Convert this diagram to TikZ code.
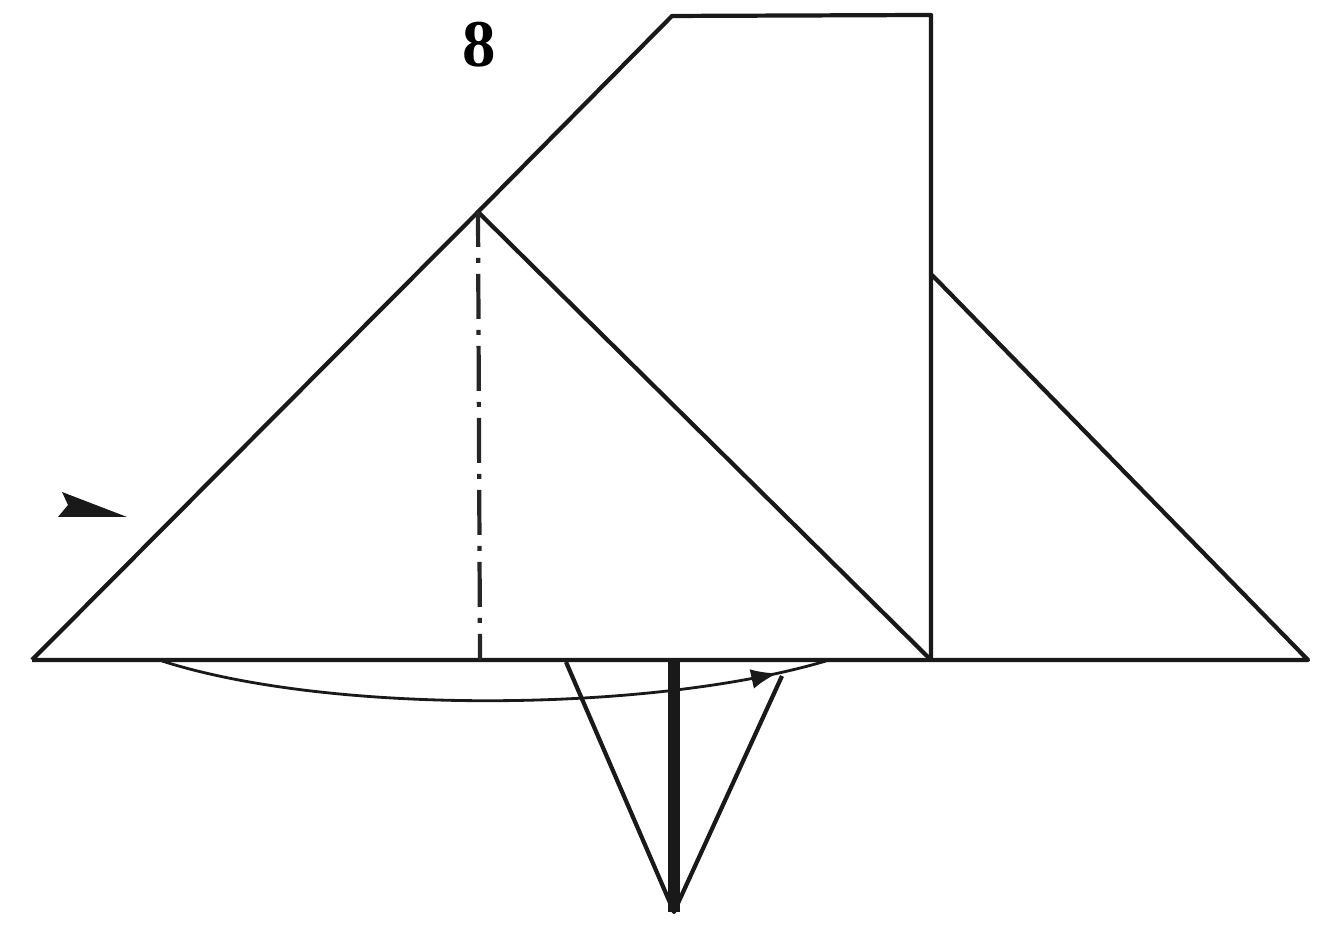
\documentclass[tikz,border=0pt]{standalone}
\usepackage{fontspec}
\setmainfont{Liberation Serif}
\usetikzlibrary{arrows.meta,decorations.markings}
\tikzset{
  edge/.style={
    line width=1.2pt,
    line join=round,
    draw=black!90
  },
  crease/.style={
    line width=1.2pt,
    draw=black!85,
    dash pattern=on .45cm off .11cm on .05cm off .11cm,
    dash phase=.10cm
  },
  spine/.style={
    line width=3.3pt,
    draw=black!90
  },
  turn/.style={
    line width=.8pt,
    draw=black!90,
    decoration={markings,mark=at position .925 with {\arrow{Latex[length=.26cm,width=.2cm]}}},
    postaction={decorate}
  },
  label/.style={
    font=\bfseries\fontsize{19}{19}\selectfont,
    inner sep=0pt
  }
}
\begin{document}
\begin{tikzpicture}
    \useasboundingbox (0,0) rectangle (13.33,9.28);
    % corners of the sheet
    \coordinate (baseL) at (.32,2.68);
    \coordinate (baseM) at (9.31,2.68);
    \coordinate (baseR) at (13.08,2.68);
    \coordinate (apex) at (4.78,7.16);
    \coordinate (topL) at (6.72,9.12);
    \coordinate (topR) at (9.31,9.13);
    \coordinate (sideR) at (9.32,6.53);
    \coordinate (foot) at (4.80,2.68);
    % flap under the base
    \coordinate (flapL) at (5.66,2.66);
    \coordinate (flapR) at (7.82,2.52);
    \coordinate (flapT) at (6.74,.16);
    \coordinate (flapM) at (6.74,2.68);
    \coordinate (turnA) at (1.62,2.67);
    \coordinate (turnB) at (8.26,2.67);

    \node[label] (num) at (4.79,8.83) {8};

    \draw[edge] (baseL) -- (apex) -- (topL) -- (topR) -- (baseM);
    \draw[edge] (baseL) -- (baseR) -- (sideR);
    \draw[edge] (apex) -- (baseM);
    \draw[crease] (apex) -- (foot);
    \draw[edge] (flapL) -- (flapT) -- (flapR);
    \draw[spine] (flapM) -- (flapT);
    \draw[turn] (turnA) .. controls (3.3,2.13) and (6.5,2.15) .. (turnB);
    % small pointer on the left
    \fill[black!90] (1.27,4.11) -- (.62,4.36) -- (.68,4.23) -- (.58,4.11) -- cycle;
\end{tikzpicture}
\end{document}
